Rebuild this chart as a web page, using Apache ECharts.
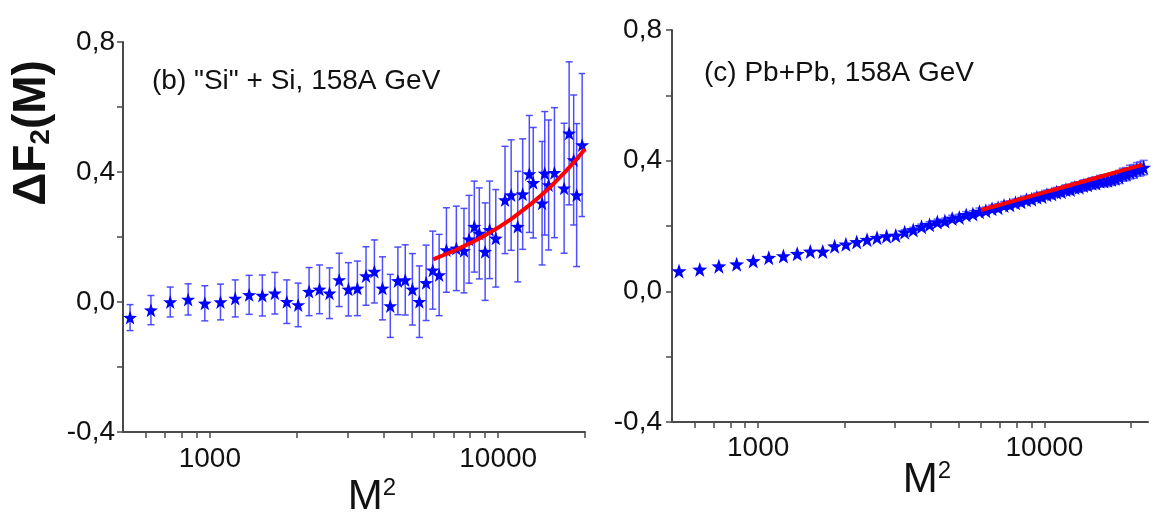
<!DOCTYPE html>
<html><head><meta charset="utf-8">
<script src="https://cdn.jsdelivr.net/npm/echarts@6/dist/echarts.min.js"></script>
<style>html,body{margin:0;padding:0;background:#fff}#c{width:1152px;height:514px}</style>
</head><body><div id="c"></div>
<script>
// ---- Panel (b) "Si" + Si, 158A GeV ----
const siX = [529, 625, 729, 841, 961, 1089, 1225, 1369, 1521, 1681, 1849, 2025, 2209, 2401, 2601, 2809, 3025, 3249, 3481, 3721, 3969, 4225, 4489, 4761, 5041, 5329, 5625, 5929, 6241,
  6615, 7160, 7610, 7925, 8265, 8600, 9010, 9340, 9810, 10560, 11090, 11690, 12160, 12820, 13230, 14200, 14500, 14960, 15670, 16930, 17620, 18270, 18710, 19550];
const siY = [-0.048, -0.025, 0.0, 0.008, -0.004, 0.0, 0.011, 0.022, 0.02, 0.027, 0.001, -0.009, 0.032, 0.039, 0.027, 0.068, 0.039, 0.042, 0.08, 0.094, 0.042, -0.012, 0.065, 0.068, 0.039, 0.001, 0.059, 0.098, 0.083,
  0.16, 0.165, 0.158, 0.193, 0.232, 0.211, 0.155, 0.222, 0.196, 0.314, 0.329, 0.232, 0.332, 0.394, 0.367, 0.304, 0.396, 0.36, 0.398, 0.35, 0.519, 0.437, 0.329, 0.483];
const siErr = [0.04, 0.045, 0.046, 0.048, 0.054, 0.055, 0.057, 0.06, 0.063, 0.064, 0.067, 0.067, 0.074, 0.075, 0.078, 0.082, 0.082, 0.084, 0.09, 0.097, 0.097, 0.097, 0.104, 0.108, 0.11, 0.11, 0.116, 0.12, 0.125,
  0.13, 0.13, 0.13, 0.135, 0.14, 0.14, 0.15, 0.15, 0.15, 0.165, 0.17, 0.17, 0.17, 0.18, 0.17, 0.19, 0.19, 0.2, 0.2, 0.2, 0.22, 0.2, 0.22, 0.22];
const siFitX = [5950, 7000, 8000, 9000, 10000, 11000, 12000, 13000, 14000, 15000, 16000, 17000, 18000, 19000, 20000];
const siFitY = [0.131, 0.157, 0.181, 0.205, 0.229, 0.253, 0.278, 0.302, 0.326, 0.350, 0.375, 0.399, 0.423, 0.447, 0.471];

// ---- Panel (c) Pb+Pb, 158A GeV ----
const pbX = [529, 625, 729, 841, 961, 1089, 1225, 1369, 1521, 1681, 1849, 2025, 2209, 2401, 2601, 2809, 3025,
  3249, 3481, 3721, 3969, 4225, 4489, 4761, 5041, 5329, 5625, 5929, 6241, 6561, 6889, 7225, 7569, 7921, 8281, 8649, 9025,
  9409, 9801, 10201, 10609, 11025, 11449, 11881, 12321, 12769, 13225, 13689, 14161, 14641, 15129, 15625, 16129, 16641, 17161,
  17689, 18225, 18769, 19321, 19881, 20449, 21025, 21609, 22201];
const pbY = [0.062, 0.067, 0.077, 0.083, 0.093, 0.103, 0.108, 0.115, 0.122, 0.122, 0.138, 0.144, 0.151, 0.158, 0.164, 0.169, 0.171,
  0.181, 0.188, 0.198, 0.204, 0.212, 0.215, 0.223, 0.226, 0.234, 0.237, 0.244, 0.247, 0.253, 0.256, 0.263, 0.265, 0.271, 0.274, 0.280, 0.282,
  0.288, 0.290, 0.296, 0.298, 0.303, 0.305, 0.311, 0.312, 0.318, 0.319, 0.324, 0.326, 0.331, 0.332, 0.337, 0.338, 0.340, 0.343,
  0.346, 0.350, 0.357, 0.359, 0.365, 0.367, 0.373, 0.375, 0.379];
const pbErr = [0, 0, 0, 0, 0, 0, 0, 0, 0, 0, 0, 0, 0, 0, 0, 0, 0,
  0.008, 0.008, 0.008, 0.009, 0.009, 0.009, 0.01, 0.01, 0.01, 0.01, 0.011, 0.011, 0.011, 0.012, 0.012, 0.012, 0.012, 0.013, 0.013, 0.013,
  0.013, 0.014, 0.014, 0.014, 0.015, 0.015, 0.015, 0.016, 0.016, 0.016, 0.017, 0.017, 0.017, 0.018, 0.018, 0.018, 0.019, 0.019,
  0.019, 0.02, 0.02, 0.02, 0.021, 0.021, 0.021, 0.022, 0.022];
const pbFitX = [6000, 8000, 10000, 13000, 16000, 19000, 22000];
const pbFitY = [0.249, 0.279, 0.303, 0.331, 0.353, 0.372, 0.387];

// ---- axes ----
const xTickValues = [600, 700, 800, 900, 1000, 2000, 3000, 4000, 5000, 6000, 7000, 8000, 9000, 10000, 20000];
const xLabelValues = [1000, 10000];
const yMin = -0.4, yMax = 0.8, yStep = 0.4;

const FONT = '"Liberation Sans", Arial, sans-serif';
const STAR = 'path://M0,-10 L2.35,-3.24 L9.51,-3.09 L3.8,1.24 L5.88,8.09 L0,4 L-5.88,8.09 L-3.8,1.24 L-9.51,-3.09 L-2.35,-3.24 Z';
const AX = '#4a4a4a';

const pts = (xs, ys) => xs.map((x, i) => [x, ys[i]]);
const errPts = (xs, ys, es) => xs.map((x, i) => [x, ys[i], es[i]]);

function xAxisCfg(grid, max, margin) {
  return {
    type: 'log', logBase: 10, gridIndex: grid, min: 500, max: max,
    axisLine: {show: true, onZero: false, lineStyle: {color: AX, width: 2}},
    axisTick: {show: true, length: 6, customValues: xTickValues, lineStyle: {color: AX, width: 1.5}},
    axisLabel: {customValues: xLabelValues, formatter: v => String(Math.round(v)), fontSize: 28, color: '#111', fontFamily: FONT, margin: margin},
    splitLine: {show: false}, minorTick: {show: false}
  };
}
function yAxisCfg(grid, margin) {
  return {
    type: 'value', gridIndex: grid, min: yMin, max: yMax, interval: yStep,
    axisLine: {show: true, onZero: false, lineStyle: {color: AX, width: 2}},
    axisTick: {show: true, length: 6, lineStyle: {color: AX, width: 1.5}},
    minorTick: {show: true, splitNumber: 2, length: 6, lineStyle: {color: AX, width: 1.5}},
    axisLabel: {formatter: v => v.toFixed(1).replace('.', ','), fontSize: 28, color: '#111', fontFamily: FONT, margin: margin},
    splitLine: {show: false}
  };
}

function errorBars(xi, yi, data, color, w) {
  return {
    type: 'custom', xAxisIndex: xi, yAxisIndex: yi, data: data, clip: true, z: 2,
    renderItem: (params, api) => {
      const x = api.value(0), y = api.value(1), e = api.value(2);
      if (!e) return null;
      const top = api.coord([x, y + e]), bot = api.coord([x, y - e]);
      const st = {stroke: color, lineWidth: 1.5, opacity: 0.9};
      return {type: 'group', children: [
        {type: 'line', shape: {x1: top[0], y1: top[1], x2: bot[0], y2: bot[1]}, style: st},
        {type: 'line', shape: {x1: top[0] - w, y1: top[1], x2: top[0] + w, y2: top[1]}, style: st},
        {type: 'line', shape: {x1: bot[0] - w, y1: bot[1], x2: bot[0] + w, y2: bot[1]}, style: st}
      ]};
    }
  };
}

const chart = echarts.init(document.getElementById('c'), null, {renderer: 'canvas'});
chart.setOption({
  animation: false,
  backgroundColor: '#fff',
  grid: [
    {left: 123, top: 42, width: 462, height: 390},
    {left: 672, top: 30, width: 476, height: 392}
  ],
  xAxis: [xAxisCfg(0, 20000, 13), xAxisCfg(1, 23000, 12)],
  yAxis: [yAxisCfg(0, 8), yAxisCfg(1, 10)],
  series: [
    errorBars(0, 0, errPts(siX, siY, siErr), '#3c3cff', 3.5),
    {type: 'scatter', xAxisIndex: 0, yAxisIndex: 0, data: pts(siX, siY), symbol: STAR, symbolSize: 14,
      itemStyle: {color: '#0000ff', opacity: 1}, z: 3, clip: true},
    {type: 'line', xAxisIndex: 0, yAxisIndex: 0, data: pts(siFitX, siFitY), showSymbol: false, smooth: false,
      lineStyle: {color: '#ff0000', width: 4}, z: 4, clip: true},
    errorBars(1, 1, errPts(pbX, pbY, pbErr), '#5a5aff', 4),
    {type: 'scatter', xAxisIndex: 1, yAxisIndex: 1, data: pts(pbX, pbY), symbol: STAR, symbolSize: 15,
      itemStyle: {color: '#0000ff', opacity: 1}, z: 3, clip: true},
    {type: 'line', xAxisIndex: 1, yAxisIndex: 1, data: pts(pbFitX, pbFitY), showSymbol: false, smooth: false,
      lineStyle: {color: '#ff0000', width: 4}, z: 4, clip: true}
  ],
  graphic: [
    {type: 'text', x: 152, y: 81, style: {text: '(b) "Si" + Si, 158A GeV', fontSize: 28, fontFamily: FONT, fill: '#111', verticalAlign: 'middle', align: 'left'}},
    {type: 'text', x: 704, y: 73, style: {text: '(c) Pb+Pb, 158A GeV', fontSize: 28, fontFamily: FONT, fill: '#111', verticalAlign: 'middle', align: 'left'}},
    {type: 'text', x: 32, y: 133, rotation: Math.PI / 2, style: {
      text: '{a|ΔF}{s|2}{a|(M)}', align: 'center', verticalAlign: 'middle', fill: '#111',
      rich: {
        a: {fontSize: 46, fontWeight: 'bold', fontFamily: FONT, fill: '#111', lineHeight: 46},
        s: {fontSize: 28, fontWeight: 'bold', fontFamily: FONT, fill: '#111', lineHeight: 28, verticalAlign: 'bottom', padding: [14, 0, 0, 0]}
      }}},
    {type: 'text', x: 372, y: 497, style: {
      text: '{m|M}{s|2}', align: 'center', verticalAlign: 'middle', fill: '#111',
      rich: {
        m: {fontSize: 42, fontFamily: FONT, fill: '#111', lineHeight: 42},
        s: {fontSize: 24, fontFamily: FONT, fill: '#111', lineHeight: 24, verticalAlign: 'top'}
      }}},
    {type: 'text', x: 927, y: 480, style: {
      text: '{m|M}{s|2}', align: 'center', verticalAlign: 'middle', fill: '#111',
      rich: {
        m: {fontSize: 42, fontFamily: FONT, fill: '#111', lineHeight: 42},
        s: {fontSize: 24, fontFamily: FONT, fill: '#111', lineHeight: 24, verticalAlign: 'top'}
      }}}
  ]
});
</script>
</body></html>
